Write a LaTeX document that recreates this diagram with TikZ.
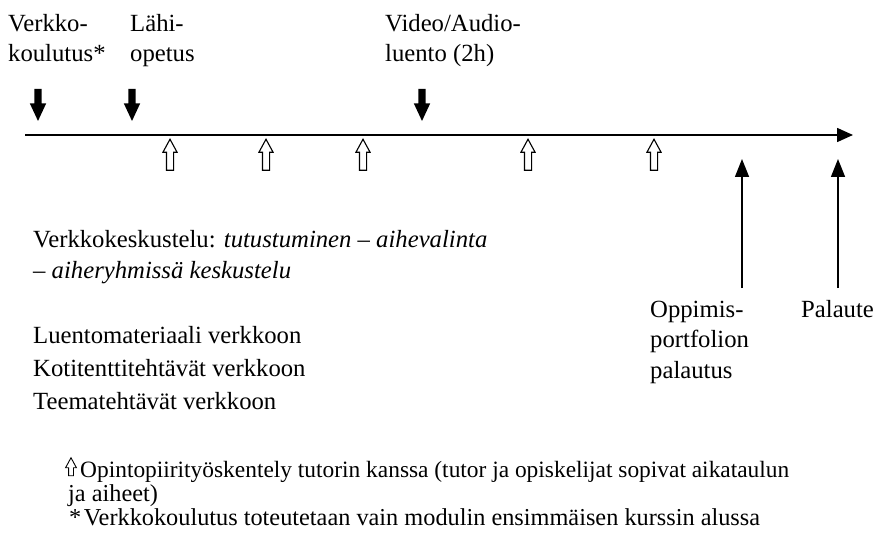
\documentclass[tikz,border=0pt]{standalone}
\usepackage{fontspec}
\setmainfont{Liberation Serif}
\usepackage{tikz}
\usetikzlibrary{
    shapes.arrows,
    arrows.meta,
    positioning
}
\tikzset{
    % Base style for the texts (anchored at the last baseline)
    label text/.style={
        font=\fontsize{24.7}{30.5}\selectfont,
        align=left,
        inner sep=0pt,
        anchor=base west,
    },
    % List of materials - a little more leading
    list text/.style={
        label text,
        font=\fontsize{24.7}{33}\selectfont,
    },
    % Legend below the axis - tighter lines
    legend text/.style={
        label text,
        font=\fontsize{24.3}{24}\selectfont,
    },
    % Time axis
    timeline/.style={
        -{Triangle[length=16pt, width=14pt]},
        line width=1.6pt,
    },
    % Solid black block arrows above the axis
    event mark/.style={
        single arrow,
        fill=black,
        draw=none,
        rotate=-90,
        inner xsep=0pt,
        inner ysep=3.5pt,
        minimum width=0pt,
        minimum height=32pt,
        single arrow head extend=4.5pt,
        single arrow tip angle=50,
    },
    % Hollow block arrows below the axis
    study mark/.style={
        single arrow,
        draw=black,
        fill=white,
        line width=1.1pt,
        rotate=90,
        inner xsep=0pt,
        inner ysep=3pt,
        minimum width=0pt,
        minimum height=31pt,
        single arrow head extend=3.5pt,
        single arrow tip angle=57,
    },
    % Thin arrows to the deadlines
    deadline arrow/.style={
        -{Triangle[length=18pt, width=14pt]},
        line width=1.5pt,
    },
}

\begin{document}
\begin{tikzpicture}[x=1pt, y=-1pt]
    \useasboundingbox (0,0) rectangle (877,545);

    \coordinate (axis start) at (25,135);
    \coordinate (axis end) at (853,135);
    \draw [timeline] (axis start) -- (axis end);

    \node (verkko) [label text] at (8,62) {Verkko-\\koulutus*};
    \node (lahi) [label text] at (130,62) {Lähi-\\opetus};
    \node (video) [label text] at (385,62) {Video/Audio-\\luento (2h)};

    \node (mark verkko) [event mark] at (38,101) {};
    \node (mark lahi) [event mark] at (132,101) {};
    \node (mark video) [event mark] at (422,101) {};

    \foreach \x [count=\i] in {170,266,363,528,654}
        \node (study \i) [study mark] at (\x,158) {};

    \node (discussion) [label text] at (33,278)
        {Verkkokeskustelu: \textit{tutustuminen – aihevalinta}\\\textit{– aiheryhmissä keskustelu}};
    \node (materials) [list text] at (33,409)
        {Luentomateriaali verkkoon\\Kotitenttitehtävät verkkoon\\Teematehtävät verkkoon};

    \node (portfolio) [label text] at (650,378) {Oppimis-\\portfolion\\palautus};
    \node (feedback) [label text] at (801,317) {Palaute};

    \coordinate (portfolio tail) at (742,288);
    \coordinate (portfolio tip) at (742,159);
    \coordinate (feedback tail) at (838,288);
    \coordinate (feedback tip) at (838,159);
    \draw [deadline arrow] (portfolio tail) -- (portfolio tip);
    \draw [deadline arrow] (feedback tail) -- (feedback tip);

    % legend
    \node (legend mark) [study mark, minimum height=18pt, inner ysep=2pt,
        single arrow head extend=3pt, line width=0.9pt] at (71,469) {};
    \node (legend study) [legend text, font=\fontsize{23.4}{24}\selectfont] at (80,477)
        {Opintopiirityöskentely tutorin kanssa (tutor ja opiskelijat sopivat aikataulun};
    \node (legend study2) [legend text] at (68,501) {ja aiheet)};
    \node (legend star) [legend text] at (69,525)
        {*\hspace{2.5pt}Verkkokoulutus toteutetaan vain modulin ensimmäisen kurssin alussa};
\end{tikzpicture}
\end{document}
